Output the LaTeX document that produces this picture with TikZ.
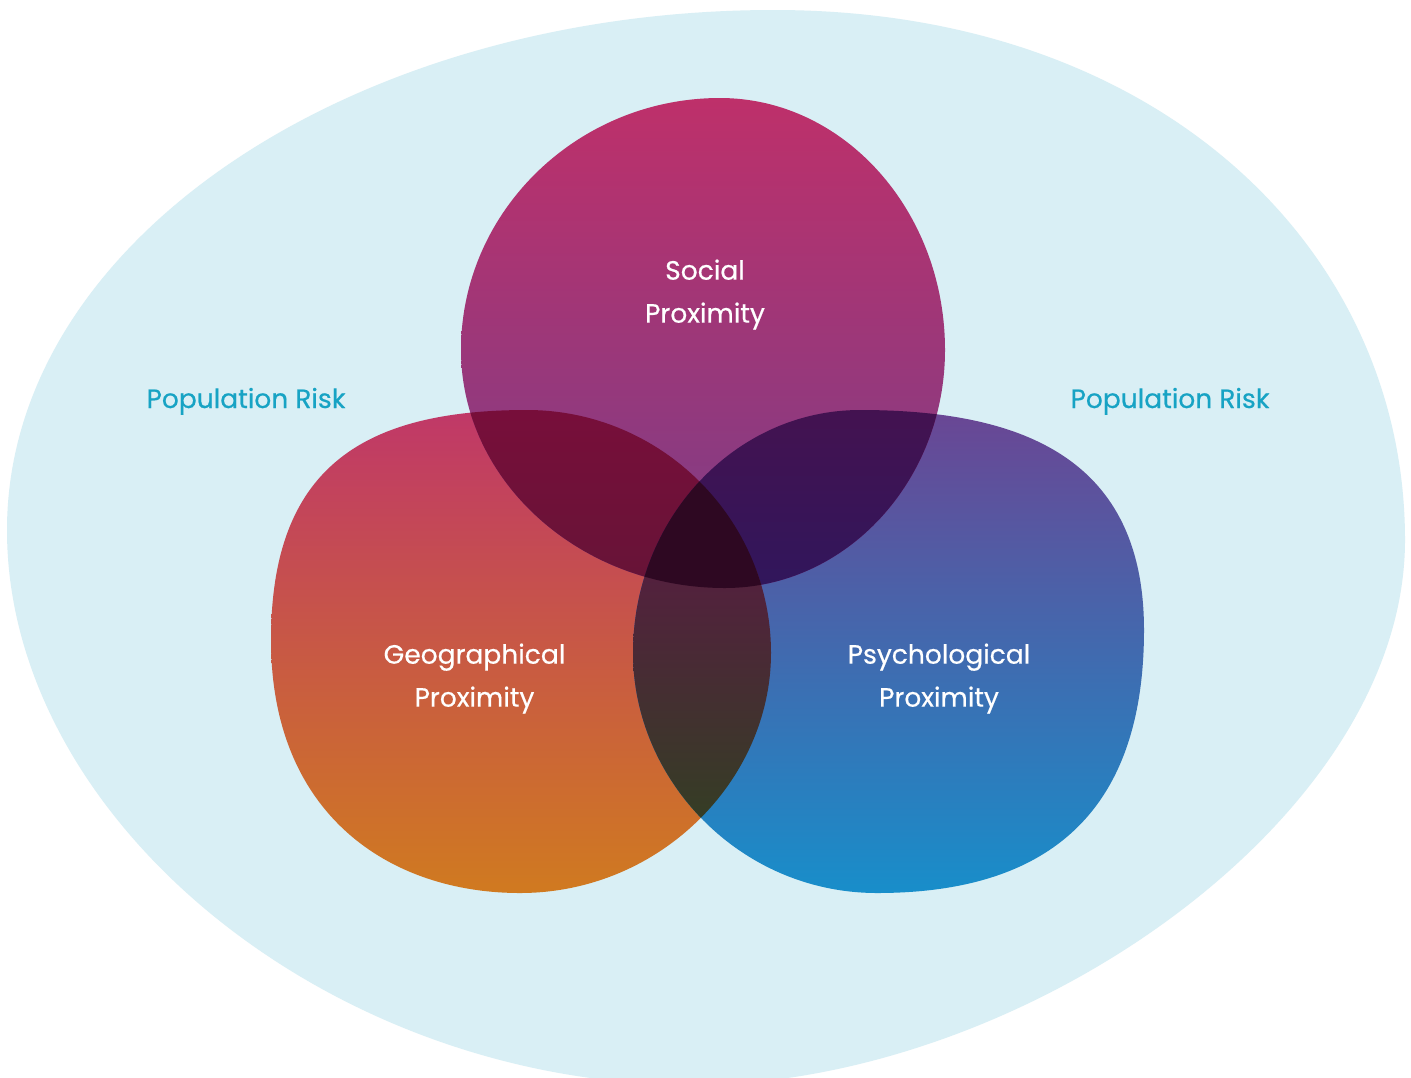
\documentclass[tikz,border=0pt]{standalone}
\usepackage{fontspec}
\setmainfont[FakeBold=0.5]{Poppins}
\definecolor{outerc}{RGB}{217,239,245}
\definecolor{popc}{RGB}{23,163,196}
\definecolor{sTop}{RGB}{190,48,106}
\definecolor{sBot}{RGB}{122,62,136}
\definecolor{gTop}{RGB}{192,56,104}
\definecolor{gMid}{RGB}{197,89,88}
\definecolor{gBot}{RGB}{208,122,32}
\definecolor{pTop}{RGB}{106,70,148}
\definecolor{pMid}{RGB}{84,100,165}
\definecolor{pBot}{RGB}{24,142,202}
\definecolor{sgTop}{RGB}{120,14,58}
\definecolor{sgBot}{RGB}{102,20,55}
\definecolor{spTop}{RGB}{68,18,80}
\definecolor{spBot}{RGB}{48,22,92}
\definecolor{sgp}{RGB}{46,8,34}
\definecolor{gpTop}{RGB}{84,32,62}
\definecolor{gpBot}{RGB}{52,62,36}
\tikzset{
  outerpath/.style={insert path={(7,530) .. controls (7,240) and (354,10) .. (774,10) .. controls (1160,10) and (1405,250) .. (1405,540) .. controls (1405,820) and (1020,1085) .. (693,1085) .. controls (330,1085) and (7,820) .. (7,530) -- cycle}},
  socpath/.style={insert path={(720,98) .. controls (844,98) and (945,211) .. (945,350) .. controls (945,481) and (846,588) .. (725,588) .. controls (580,588) and (461,481) .. (461,350) .. controls (461,211) and (578,98) .. (720,98) -- cycle}},
  geopath/.style={insert path={(527,410) .. controls (661,410) and (771,519) .. (771,653) .. controls (771,780) and (660,893) .. (520,893) .. controls (390,893) and (271,815) .. (271,640) .. controls (271,470) and (360,410) .. (527,410) -- cycle}},
  psypath/.style={insert path={(860,410) .. controls (735,410) and (633,519) .. (633,653) .. controls (633,780) and (740,893) .. (877,893) .. controls (1040,893) and (1144,820) .. (1144,630) .. controls (1144,460) and (1025,410) .. (860,410) -- cycle}},
  lbl/.style={text=white, font=\fontsize{26.5}{43}\selectfont, align=center, inner sep=0pt},
  poplbl/.style={text=popc, font=\fontsize{26.5}{43}\selectfont, inner sep=0pt, anchor=base}
}
\begin{document}
\begin{tikzpicture}[x=1pt,y=-1pt]
\useasboundingbox (0,0) rectangle (1411,1077);
\fill[white] (0,0) rectangle (1411,1077);
% population
\fill[outerc, outerpath];
% blobs
\shade[top color=gTop, middle color=gMid, bottom color=gBot, geopath];
\shade[top color=pTop, middle color=pMid, bottom color=pBot, psypath];
\shade[top color=sTop, bottom color=sBot, socpath];
% overlaps
\begin{scope}
  \clip[geopath];
  \clip[socpath];
  \shade[top color=sgTop, bottom color=sgBot] (400,405) rectangle (800,592);
\end{scope}
\begin{scope}
  \clip[psypath];
  \clip[socpath];
  \shade[top color=spTop, bottom color=spBot] (600,405) rectangle (1000,592);
\end{scope}
\begin{scope}
  \clip[geopath];
  \clip[psypath];
  \shade[top color=gpTop, bottom color=gpBot] (600,570) rectangle (800,825);
\end{scope}
\begin{scope}
  \clip[geopath];
  \clip[psypath];
  \clip[socpath];
  \fill[sgp] (600,400) rectangle (800,600);
\end{scope}
% labels
\node[lbl] (soc) at (705,294.5) {Social\\Proximity};
\node[lbl] (geo) at (474.5,678.5) {Geographical\\Proximity};
\node[lbl] (psy) at (939,678.5) {Psychological\\Proximity};
\node[poplbl] (popL) at (246,408) {Population Risk};
\node[poplbl] (popR) at (1170,408) {Population Risk};
\end{tikzpicture}
\end{document}
